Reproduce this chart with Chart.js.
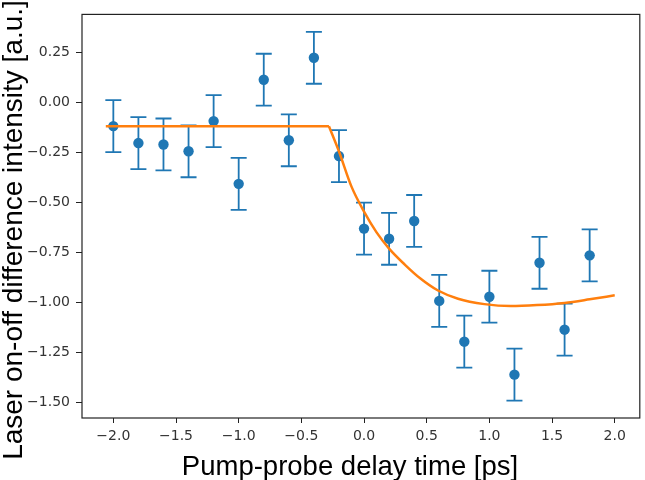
<!DOCTYPE html>
<html>
<head>
<meta charset="utf-8">
<script src="https://cdn.jsdelivr.net/npm/chart.js@4"></script>
<style>
  html, body { margin: 0; padding: 0; background: #fff; }
  #wrap { width: 645px; height: 480px; }
</style>
</head>
<body>
<div id="wrap"><canvas id="myChart" width="645" height="480"></canvas></div>
<script>
// measured points (pump-probe delay in ps)
const delays = [-2.0, -1.8, -1.6, -1.4, -1.2, -1.0, -0.8, -0.6, -0.4, -0.2, 0.0, 0.2, 0.4, 0.6, 0.8, 1.0, 1.2, 1.4, 1.6, 1.8]
const signal = [-0.117, -0.202, -0.209, -0.243, -0.092, -0.406, 0.115, -0.188, 0.225, -0.267, -0.63, -0.681, -0.592, -0.992, -1.196, -0.971, -1.361, -0.801, -1.136, -0.764]
const errors = [0.13, 0.13, 0.13, 0.13, 0.13, 0.13, 0.13, 0.13, 0.13, 0.13, 0.13, 0.13, 0.13, 0.13, 0.13, 0.13, 0.13, 0.13, 0.13, 0.13]

// fit curve
const flatX = [-2.06, -0.28]
const flatY = [-0.118, -0.118]
const decayX = [-0.28, -0.2, -0.1, 0.0, 0.1, 0.2, 0.325, 0.45, 0.59, 0.75, 0.96, 1.17, 1.38, 1.6, 1.8, 2.0]
const decayY = [-0.118, -0.244, -0.42, -0.545, -0.649, -0.73, -0.81, -0.88, -0.94, -0.981, -1.008, -1.018, -1.013, -1.002, -0.984, -0.964]

const xTicks = [-2.0, -1.5, -1.0, -0.5, 0.0, 0.5, 1.0, 1.5, 2.0]
const yTicks = [-1.5, -1.25, -1.0, -0.75, -0.5, -0.25, 0.0, 0.25]

const xTitle = 'Pump-probe delay time [ps]'
const yTitle = 'Laser on-off difference intensity [a.u.]'

const blue = '#1f77b4'
const orange = '#ff7f0e'

const toXY = (xs, ys) => xs.map((x, i) => ({ x: x, y: ys[i] }))
const minus = s => s.replace('-', '\u2212')

// error bars + frame + axis titles
const extras = {
  id: 'extras',
  beforeDatasetsDraw(chart) {
    const c = chart.ctx
    const xs = chart.scales.x
    const ys = chart.scales.y
    c.save()
    c.strokeStyle = blue
    c.lineWidth = 1.8
    delays.forEach((d, i) => {
      const px = xs.getPixelForValue(d)
      const top = ys.getPixelForValue(signal[i] + errors[i])
      const bot = ys.getPixelForValue(signal[i] - errors[i])
      c.beginPath()
      c.moveTo(px, top)
      c.lineTo(px, bot)
      c.moveTo(px - 8, top)
      c.lineTo(px + 8, top)
      c.moveTo(px - 8, bot)
      c.lineTo(px + 8, bot)
      c.stroke()
    })
    c.restore()
  },
  afterDraw(chart) {
    const c = chart.ctx
    const a = chart.chartArea
    c.save()
    c.strokeStyle = '#222'
    c.lineWidth = 1.2
    c.strokeRect(a.left, a.top, a.right - a.left, a.bottom - a.top)

    c.fillStyle = '#000'
    c.textAlign = 'center'
    c.textBaseline = 'alphabetic'
    c.font = '27.5px "Liberation Sans"'
    c.fillText(xTitle, 350, 475)

    c.translate(22, 230)
    c.rotate(-Math.PI / 2)
    c.font = '28px "Liberation Sans"'
    c.fillText(yTitle, 0, 0)
    c.restore()
  }
}

const ctx = document.getElementById('myChart')

new Chart(ctx, {
  type: 'scatter',
  data: {
    datasets: [
      {
        label: 'fit flat',
        data: toXY(flatX, flatY),
        showLine: true,
        borderColor: orange,
        borderWidth: 2.5,
        pointRadius: 0,
        tension: 0,
        order: 1
      },
      {
        label: 'fit',
        data: toXY(decayX, decayY),
        showLine: true,
        borderColor: orange,
        borderWidth: 2.5,
        pointRadius: 0,
        cubicInterpolationMode: 'monotone',
        order: 1
      },
      {
        label: 'data',
        data: toXY(delays, signal),
        showLine: false,
        pointRadius: 5.2,
        pointBackgroundColor: blue,
        pointBorderWidth: 0,
        order: 2
      }
    ]
  },
  options: {
    responsive: false,
    animation: false,
    devicePixelRatio: 1,
    layout: { padding: { top: 2, right: 3, left: 0, bottom: 0 } },
    plugins: { legend: { display: false }, tooltip: { enabled: false } },
    scales: {
      x: {
        type: 'linear',
        min: -2.25,
        max: 2.2,
        afterFit: s => { s.height = 62 },
        afterBuildTicks: s => { s.ticks = xTicks.map(v => ({ value: v })) },
        grid: { drawOnChartArea: false, drawTicks: true, tickLength: 5, tickColor: '#222', lineWidth: 1 },
        border: { display: false },
        ticks: {
          padding: 5,
          maxRotation: 0,
          color: '#333',
          font: { family: 'DejaVu Sans', size: 14 },
          callback: v => minus(v.toFixed(1))
        }
      },
      y: {
        type: 'linear',
        min: -1.578,
        max: 0.442,
        afterFit: s => { s.width = 82 },
        afterBuildTicks: s => { s.ticks = yTicks.map(v => ({ value: v })) },
        grid: { drawOnChartArea: false, drawTicks: true, tickLength: 6, tickColor: '#222', lineWidth: 1 },
        border: { display: false },
        ticks: {
          padding: 6,
          color: '#333',
          font: { family: 'DejaVu Sans', size: 14 },
          callback: v => minus(v.toFixed(2))
        }
      }
    }
  },
  plugins: [extras]
})
</script>
</body>
</html>
